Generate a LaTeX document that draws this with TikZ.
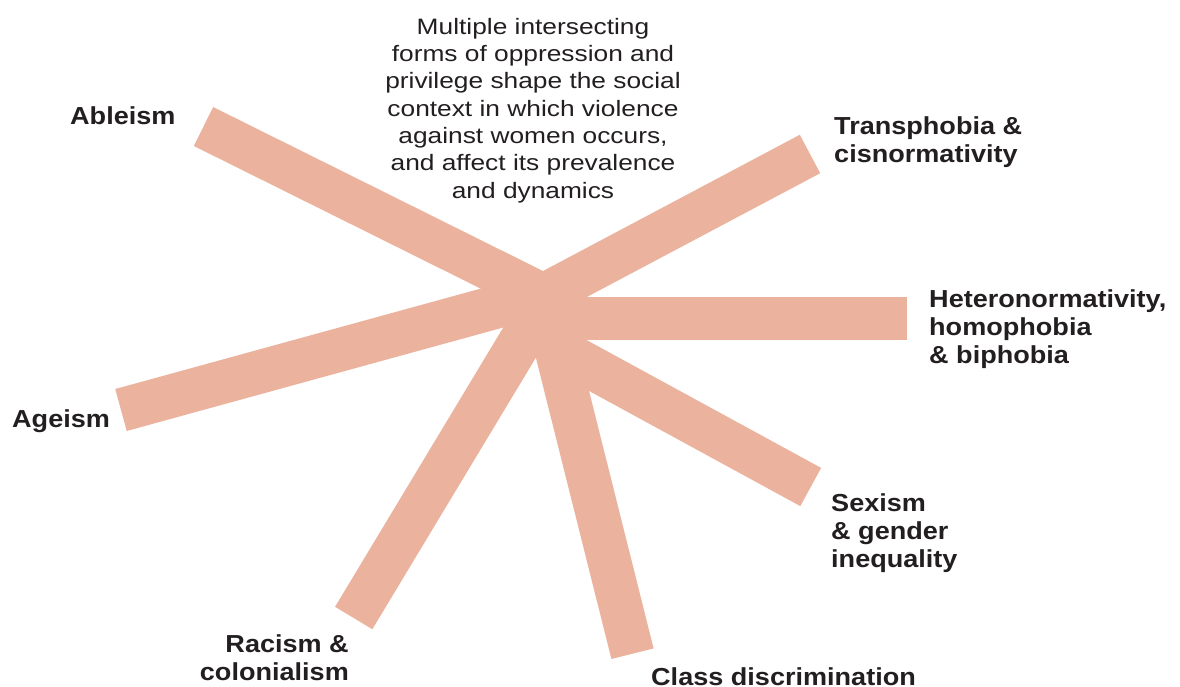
\documentclass[tikz,border=0pt]{standalone}
\usepackage{fontspec}
\setmainfont{Liberation Sans}
\newfontfamily\notefam{Liberation Sans}[FakeStretch=1.18]
\newfontfamily\labfam{Liberation Sans}[FakeStretch=1.1]
\definecolor{barcol}{RGB}{235,179,158}
\definecolor{inkcol}{RGB}{35,31,32}
\tikzset{
  bar/.style={draw=barcol, line width=43.5pt, line cap=butt},
  lab/.style={inner sep=0pt, text=inkcol, font=\labfam\bfseries\fontsize{24.6}{28}\selectfont},
  note/.style={inner sep=0pt, text=inkcol, font=\notefam\fontsize{22.3}{27.3}\selectfont}
}
\begin{document}
\begin{tikzpicture}[x=1pt, y=-1pt]
  \fill[white] (0,0) rectangle (1180,687);
  \useasboundingbox (0,0) rectangle (1180,687);

  % outer ends of the bars
  \coordinate (ableEnd)  at (203.5,126.5);
  \coordinate (transEnd) at (810,154);
  \coordinate (heteEnd)  at (906.7,318.7);
  \coordinate (ageEnd)   at (121,410);
  \coordinate (raceEnd)  at (353.7,618);
  \coordinate (classEnd) at (632.5,653.7);
  \coordinate (sexEnd)   at (810.7,487);

  % inner ends, all hidden inside the crossing
  \coordinate (ableHub)  at (561.7,304.6);
  \coordinate (transHub) at (522.9,306.3);
  \coordinate (heteHub)  at (530,318.7);
  \coordinate (ageHub)   at (545.3,293.4);
  \coordinate (raceHub)  at (552.3,288.2);
  \coordinate (classHub) at (540.1,285.1);
  \coordinate (sexHub)   at (556.1,348.2);

  \draw[bar] (ableEnd)  -- (ableHub);
  \draw[bar] (transEnd) -- (transHub);
  \draw[bar] (heteEnd)  -- (heteHub);
  \draw[bar] (ageEnd)   -- (ageHub);
  \draw[bar] (raceEnd)  -- (raceHub);
  \draw[bar] (classEnd) -- (classHub);
  \draw[bar] (sexEnd)   -- (sexHub);

  % central statement
  \node[note, anchor=base] (statement) at (533,34.3)
    {\begin{tabular}[t]{@{}c@{}}
      Multiple intersecting\\
      forms of oppression and\\
      privilege shape the social\\
      context in which violence\\
      against women occurs,\\
      and affect its prevalence\\
      and dynamics
    \end{tabular}};

  % labels at the bar ends
  \node[lab, anchor=base west] (ableism) at (70,125) {Ableism};
  \node[lab, anchor=base west] (trans) at (834,134.3)
    {\begin{tabular}[t]{@{}l@{}}Transphobia \&\\cisnormativity\end{tabular}};
  \node[lab, anchor=base west] (hetero) at (929,307)
    {\begin{tabular}[t]{@{}l@{}}Heteronormativity,\\homophobia\\\& biphobia\end{tabular}};
  \node[lab, anchor=base west] (sexism) at (831,511)
    {\begin{tabular}[t]{@{}l@{}}Sexism\\\& gender\\inequality\end{tabular}};
  \node[lab, anchor=base west] (ageism) at (12,427) {Ageism};
  \node[lab, anchor=base east] (racism) at (349,652)
    {\begin{tabular}[t]{@{}r@{}}Racism \&\\colonialism\end{tabular}};
  \node[lab, anchor=base west] (classd) at (651,685) {Class discrimination};
\end{tikzpicture}
\end{document}
